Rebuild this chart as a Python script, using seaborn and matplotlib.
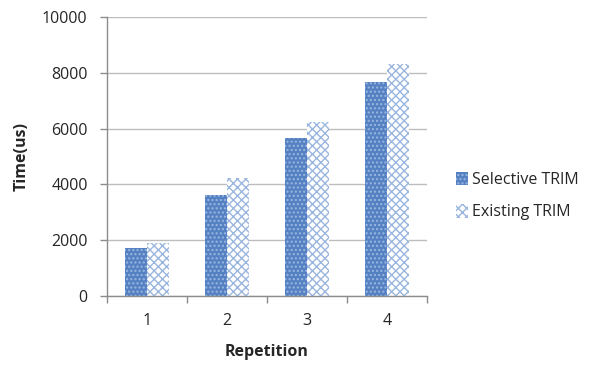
import matplotlib
matplotlib.use("Agg")
import matplotlib.pyplot as plt
from matplotlib.patches import Patch
import seaborn as sns
import pandas as pd
import numpy as np

repetitions = ["1", "2", "3", "4"]
selective_trim = [1720, 3620, 5660, 7670]
existing_trim = [1900, 4230, 6240, 8320]
series_names = ["Selective TRIM", "Existing TRIM"]
y_ticks = [0, 2000, 4000, 6000, 8000, 10000]

df = pd.DataFrame({
    "Repetition": repetitions * 2,
    "Time": selective_trim + existing_trim,
    "Series": [series_names[0]] * 4 + [series_names[1]] * 4,
})

sns.set_theme(style="white")
plt.rcParams["font.family"] = ["Open Sans", "DejaVu Sans"]
plt.rcParams["hatch.linewidth"] = 1.0

fig = plt.figure(figsize=(5.95, 3.67), dpi=100)
ax = fig.add_axes([0.18, 0.1935, 0.5376, 0.7605])

sns.barplot(data=df, x="Repetition", y="Time", hue="Series",
            order=repetitions, hue_order=series_names,
            width=0.56, gap=0, ax=ax, legend=False)

styles = {
    series_names[0]: dict(face="#5581c3", hatch="....", edge="#9ab7e0"),
    series_names[1]: dict(face="white", hatch="xxxx", edge="#9ab6df"),
}
for container, name in zip(ax.containers, series_names):
    st = styles[name]
    for bar in container:
        bar.set_facecolor(st["face"])
        bar.set_hatch(st["hatch"])
        bar.set_edgecolor(st["edge"])
        bar.set_linewidth(0)

ax.set_ylim(0, 10000)
ax.set_xlim(-0.5, 3.5)
ax.set_yticks(y_ticks)
ax.set_yticklabels([str(v) for v in y_ticks], fontsize=11.5, color="#262626")
ax.yaxis.grid(True, color="#bdbdbd", linewidth=1)
ax.set_axisbelow(True)

ax.set_xticks(range(4))
ax.set_xticklabels(repetitions, fontsize=11.5, color="#262626")
ax.set_xticks(np.arange(-0.5, 4.0, 1.0), minor=True)
ax.tick_params(axis="x", which="major", length=0, pad=12)
ax.tick_params(axis="x", which="minor", length=5, color="#8c8c8c", width=1, direction="out")
ax.tick_params(axis="y", which="major", length=5, color="#8c8c8c", width=1, direction="out", pad=9)
ax.tick_params(bottom=True, left=True, which="both")

for side in ["top", "right"]:
    ax.spines[side].set_visible(False)
for side in ["left", "bottom"]:
    ax.spines[side].set_color("#8c8c8c")
    ax.spines[side].set_linewidth(1)

ax.set_xlabel("Repetition", fontsize=11.5, fontweight="bold", labelpad=11)
ax.set_ylabel("Time(us)", fontsize=11.5, fontweight="bold", labelpad=9)

handles = [Patch(facecolor=styles[n]["face"], hatch=styles[n]["hatch"],
                 edgecolor=styles[n]["edge"], linewidth=0) for n in series_names]
fig.legend(handles, series_names, loc="center left", bbox_to_anchor=(0.743, 0.465),
           frameon=False, fontsize=11.5, handlelength=0.7, handleheight=0.9,
           handletextpad=0.25, labelspacing=1.0)

fig.savefig("out.png", dpi=100)
